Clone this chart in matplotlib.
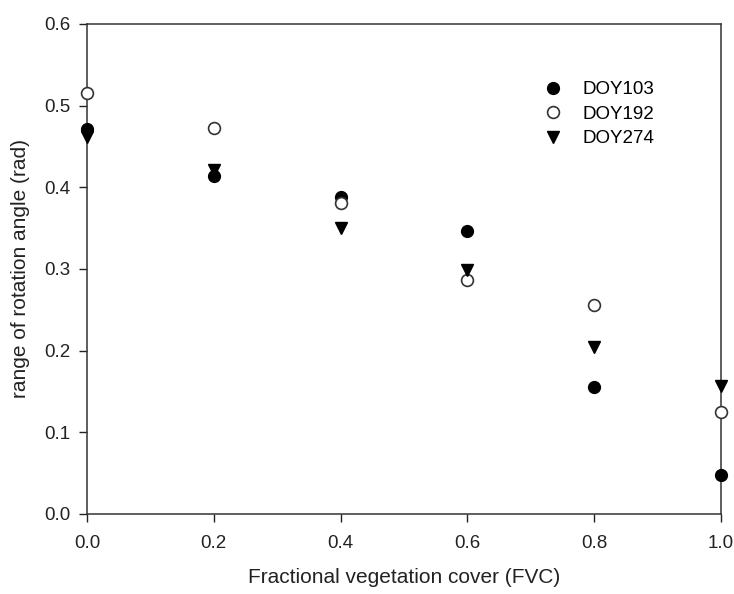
import matplotlib.pyplot as plt
import numpy as np

plt.rcParams['font.family'] = ['Liberation Sans', 'DejaVu Sans']

# Fractional vegetation cover
fvc = [0.0, 0.2, 0.4, 0.6, 0.8, 1.0]
# range of rotation angle (rad)
doy103 = [0.471, 0.414, 0.388, 0.346, 0.155, 0.048]
doy192 = [0.516, 0.473, 0.381, 0.287, 0.256, 0.125]
doy274 = [0.462, 0.421, 0.350, 0.299, 0.205, 0.157]

fig = plt.figure(figsize=(7.34, 5.94), dpi=100)
ax = fig.add_axes([0.1185, 0.1347, 0.8638, 0.8249])

ax.plot(fvc, doy103, 'o', color='black', markersize=8.5, label='DOY103', clip_on=False, zorder=3)
ax.plot(fvc, doy192, 'o', markerfacecolor='white', markeredgecolor='#333333', markeredgewidth=1.2,
        markersize=8.5, label='DOY192', clip_on=False, zorder=4)
ax.plot(fvc, doy274, 'v', color='black', markersize=8.5, label='DOY274', clip_on=False, zorder=5)

ax.set_xlim(0, 1)
ax.set_ylim(0, 0.6)
ax.set_xticks(np.arange(0, 1.01, 0.2))
ax.set_yticks(np.arange(0, 0.61, 0.1))
ax.xaxis.set_major_formatter(plt.FormatStrFormatter('%.1f'))
ax.yaxis.set_major_formatter(plt.FormatStrFormatter('%.1f'))
ax.tick_params(direction='out', length=6, width=1, labelsize=13.5, colors='#222222', pad=6)
ax.tick_params(axis='x', pad=9)
for s in ax.spines.values():
    s.set_linewidth(1.1)
    s.set_color('#333333')

ax.set_xlabel('Fractional vegetation cover (FVC)', fontsize=15, color='#222222', labelpad=12)
ax.set_ylabel('range of rotation angle (rad)', fontsize=15, color='#222222', labelpad=10)

ax.legend(loc='upper left', bbox_to_anchor=(0.69, 0.918), frameon=False, fontsize=13.5,
          handletextpad=1.0, labelspacing=0.4, handlelength=1.2)

plt.savefig('out.png', dpi=100)
